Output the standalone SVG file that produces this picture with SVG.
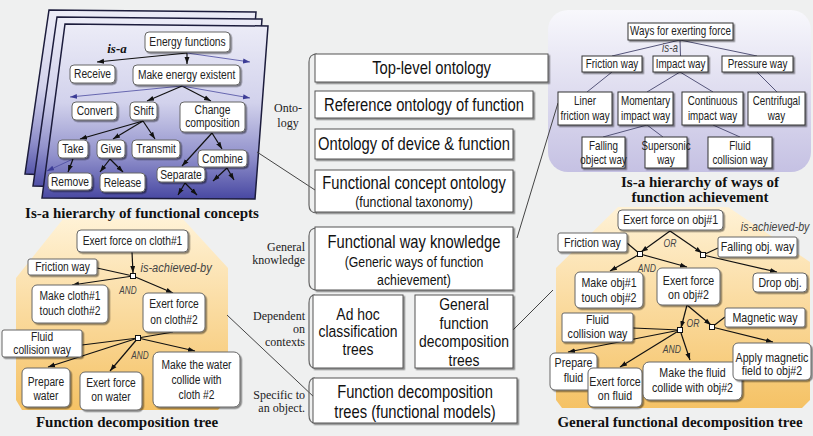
<svg xmlns="http://www.w3.org/2000/svg" width="813" height="436" viewBox="0 0 813 436">
<defs>
<linearGradient id="gSheet" x1="0" y1="0" x2="0" y2="1">
<stop offset="0" stop-color="#ececf7"/>
<stop offset="0.45" stop-color="#d2d2ec"/>
<stop offset="0.75" stop-color="#9292cc"/>
<stop offset="1" stop-color="#4848a2"/>
</linearGradient>
<linearGradient id="gWays" x1="0" y1="0" x2="0" y2="1">
<stop offset="0" stop-color="#f8f8fc"/>
<stop offset="1" stop-color="#c5c1e3"/>
</linearGradient>
<linearGradient id="gOr" x1="0" y1="0" x2="0" y2="1">
<stop offset="0" stop-color="#fff2d6"/>
<stop offset="1" stop-color="#f5c265"/>
</linearGradient>
<filter id="sh" x="-20%" y="-20%" width="150%" height="160%">
<feDropShadow dx="1.5" dy="1.5" stdDeviation="0.7" flood-color="#000" flood-opacity="0.45"/>
</filter>
<marker id="a" viewBox="0 0 10 10" refX="10" refY="5" markerWidth="7" markerHeight="7" markerUnits="userSpaceOnUse" orient="auto">
<path d="M0,1.5 L10,5 L0,8.5 z" fill="#111"/>
</marker>
<marker id="ab" viewBox="0 0 10 10" refX="10" refY="5" markerWidth="7" markerHeight="7" markerUnits="userSpaceOnUse" orient="auto">
<path d="M0,1.5 L10,5 L0,8.5 z" fill="#3c3c96"/>
</marker>
</defs>
<style>
.sheet{fill:url(#gSheet);stroke:#1c1c3c;stroke-width:1.5}
.nb{fill:#fff;stroke:#666;stroke-width:1;filter:url(#sh)}
.sb{fill:#fff;stroke:#333;stroke-width:1;filter:url(#sh)}
.cb{fill:#fff;stroke:#555;stroke-width:1;filter:url(#sh)}
.e{fill:none;stroke:#111;stroke-width:1.2}
.eb{fill:none;stroke:#4a4aa0;stroke-width:0.8}
.ew{fill:none;stroke:#55557a;stroke-width:1}
.cn{fill:none;stroke:#444;stroke-width:1}
.br{fill:none;stroke:#666;stroke-width:1.2}
.nd{fill:#fff;stroke:#111;stroke-width:1}
text{font-family:"Liberation Sans",Arial,sans-serif;fill:#222;text-anchor:middle;transform-box:fill-box;transform-origin:center;transform:scaleX(0.82)}
.t1{font-size:12.5px}
.t2{font-size:12px}
.t3{font-size:12.5px}
.t4{font-size:13px}
.big{font-size:18px;fill:#111}
.big2{font-size:17px;fill:#111}
.mid{font-size:15px;fill:#111}
.it{font-style:italic;fill:#444}
.cap{font-family:"Liberation Serif","Times New Roman",serif;font-weight:bold;font-size:15px;fill:#111;transform:none}
.isa{font-family:"Liberation Serif","Times New Roman",serif;font-weight:bold;font-style:italic;font-size:13px;fill:#111;transform:none}
.sl{font-family:"Liberation Serif","Times New Roman",serif;font-size:12px;fill:#222;text-anchor:end;transform:none}
</style>
<rect width="813" height="436" fill="#eff0f0"/>

<!-- Regions -->
<g id="region-isa-sheets">
<polygon class="sheet" points="49,10 256,12 243,183 25,174"/>
<polygon class="sheet" points="57,17 262,19 249,191 33,186"/>
<polygon class="sheet" points="65,24 268,26 255,199 42,198"/>
</g>
<rect id="region-ways" x="548" y="10" width="263" height="162" rx="20" fill="url(#gWays)"/>
<polygon id="region-fdt" points="63,219 183,219 228,268 228,398 218,410 22,410 16,400 16,278" fill="url(#gOr)"/>
<polygon id="region-gfdt" points="618,207 728,207 810,262 810,400 802,408 562,408 556,400 556,268" fill="url(#gOr)"/>

<!-- Connectors -->
<g id="connectors">
<path class="cn" d="M257,152 L315,190"/>
<path class="cn" d="M517,238 L558,103"/>
<path class="cn" d="M227,315 L315,398"/>
<path class="cn" d="M513,330 L553,290"/>
<path class="br" d="M317,54 Q309,54 309,62 V205 Q309,213 317,213"/>
<path class="br" d="M317,228 Q309,228 309,236 V282 Q309,290 317,290"/>
<path class="br" d="M315,295 Q309,295 309,303 V360 Q309,368 315,368"/>
<path class="br" d="M315,378 Q309,378 309,386 V415 Q309,423 315,423"/>
<!-- is-a hierarchy edges -->
<path class="e" d="M187,53 L97,62" marker-end="url(#a)"/>
<path class="e" d="M187,53 L187,64" marker-end="url(#a)"/>
<path class="eb" d="M187,53 L250,62" marker-end="url(#ab)"/>
<path class="eb" d="M182,86 L70,97" marker-end="url(#ab)"/>
<path class="e" d="M182,86 L147,101" marker-end="url(#a)"/>
<path class="e" d="M182,86 L211,101" marker-end="url(#a)"/>
<path class="eb" d="M182,86 L250,98" marker-end="url(#ab)"/>
<path class="e" d="M143,121 L80,139" marker-end="url(#a)"/>
<path class="e" d="M143,121 L113,139" marker-end="url(#a)"/>
<path class="e" d="M143,121 L155,139" marker-end="url(#a)"/>
<path class="eb" d="M73,159 L47,171" marker-end="url(#ab)"/>
<path class="e" d="M73,159 L68,172" marker-end="url(#a)"/>
<path class="e" d="M110,159 L100,172" marker-end="url(#a)"/>
<path class="e" d="M110,159 L123,172" marker-end="url(#a)"/>
<path class="e" d="M212,133 L182,166" marker-end="url(#a)"/>
<path class="e" d="M212,133 L222,149" marker-end="url(#a)"/>
<path class="e" d="M185,183 L178,195" marker-end="url(#a)"/>
<path class="e" d="M185,183 L197,195" marker-end="url(#a)"/>
<path class="e" d="M227,168 L213,181" marker-end="url(#a)"/>
<path class="e" d="M227,168 L234,180" marker-end="url(#a)"/>
<!-- ways edges -->
<path class="ew" d="M680,40 L612,56 M680,40 L680.5,56 M680,40 L757,56 M612,72 L587,92 M680,72 L647,92 M680,72 L713,92 M757,72 L777,92 M647,125 L603,137 M647,125 L663,137 M713,125 L740,137"/>
<!-- function decomposition tree edges -->
<path class="e" d="M132,252 L133,273" marker-end="url(#a)"/>
<path class="e" d="M97,268 L133,276"/>
<path class="e" d="M133,276 L72,285" marker-end="url(#a)"/>
<path class="e" d="M133,276 L173,293" marker-end="url(#a)"/>
<path class="e" d="M173,332 L138,338"/>
<path class="e" d="M82,345 L138,338"/>
<path class="e" d="M138,338 L48,367" marker-end="url(#a)"/>
<path class="e" d="M138,338 L110,371" marker-end="url(#a)"/>
<path class="e" d="M138,338 L195,351" marker-end="url(#a)"/>
<!-- general decomposition edges -->
<path class="e" d="M670,231 L641,252" marker-end="url(#a)"/>
<path class="e" d="M670,231 L702,253" marker-end="url(#a)"/>
<path class="e" d="M627,243 L640,254"/>
<path class="e" d="M718,248 L703,255"/>
<path class="e" d="M640,254 L610,271" marker-end="url(#a)"/>
<path class="e" d="M640,254 L687,267" marker-end="url(#a)"/>
<path class="e" d="M703,255 L777,272" marker-end="url(#a)"/>
<path class="e" d="M687,305 L681,328" marker-end="url(#a)"/>
<path class="e" d="M687,305 L711,325" marker-end="url(#a)"/>
<path class="e" d="M633,328 L680,330"/>
<path class="e" d="M725,317 L712,327"/>
<path class="e" d="M680,330 L568,352" marker-end="url(#a)"/>
<path class="e" d="M680,330 L620,367" marker-end="url(#a)"/>
<path class="e" d="M680,330 L690,360" marker-end="url(#a)"/>
<path class="e" d="M712,327 L773,342" marker-end="url(#a)"/>
</g>

<!-- Is-a hierarchy of functional concepts -->
<text class="isa" x="117" y="53">is-a</text>
<g id="n-energy-functions"><rect class="nb" x="145" y="32" width="85" height="20" rx="4"/><text class="t1" x="187.5" y="46.5">Energy functions</text></g>
<g id="n-receive"><rect class="nb" x="70" y="65" width="45" height="18" rx="4"/><text class="t1" x="92.5" y="78.5">Receive</text></g>
<g id="n-make-energy"><rect class="nb" x="133" y="65" width="107" height="20" rx="4"/><text class="t1" x="186.5" y="79.5">Make energy existent</text></g>
<g id="n-convert"><rect class="nb" x="72" y="102" width="45" height="18" rx="4"/><text class="t1" x="94.5" y="115.5">Convert</text></g>
<g id="n-shift"><rect class="nb" x="130" y="102" width="27" height="18" rx="4"/><text class="t1" x="143.5" y="115.5">Shift</text></g>
<g id="n-change"><rect class="nb" x="180" y="102" width="65" height="30" rx="4"/><text class="t1" x="212.5" y="114.5">Change</text><text class="t1" x="212.5" y="127">composition</text></g>
<g id="n-take"><rect class="nb" x="58" y="140" width="30" height="18" rx="4"/><text class="t1" x="73" y="153.5">Take</text></g>
<g id="n-give"><rect class="nb" x="97" y="140" width="28" height="18" rx="4"/><text class="t1" x="111" y="153.5">Give</text></g>
<g id="n-transmit"><rect class="nb" x="132" y="140" width="48" height="18" rx="4"/><text class="t1" x="156" y="153.5">Transmit</text></g>
<g id="n-combine"><rect class="nb" x="198" y="150" width="49" height="17" rx="4"/><text class="t1" x="222.5" y="163">Combine</text></g>
<g id="n-remove"><rect class="nb" x="48" y="173" width="44" height="17" rx="4"/><text class="t1" x="70" y="186">Remove</text></g>
<g id="n-release"><rect class="nb" x="100" y="173" width="45" height="19" rx="4"/><text class="t1" x="122.5" y="187">Release</text></g>
<g id="n-separate"><rect class="nb" x="157" y="167" width="48" height="15" rx="4"/><text class="t1" x="181" y="179">Separate</text></g>
<text class="cap" x="142" y="218">Is-a hierarchy of functional concepts</text>

<!-- Center column -->
<g id="c-top-level"><rect class="cb" x="315" y="54" width="233" height="28"/><text class="big" x="431.5" y="74">Top-level ontology</text></g>
<g id="c-reference"><rect class="cb" x="315" y="91" width="218" height="27"/><text class="big" x="424" y="111">Reference ontology of function</text></g>
<g id="c-device"><rect class="cb" x="315" y="129" width="198" height="30"/><text class="big" x="414" y="150.5">Ontology of device &amp; function</text></g>
<g id="c-concept"><rect class="cb" x="315" y="170" width="198" height="42"/><text class="big" x="414" y="189">Functional concept ontology</text><text class="mid" x="414" y="207.5">(functional taxonomy)</text></g>
<g id="c-way"><rect class="cb" x="315" y="227" width="198" height="63"/><text class="big" x="414" y="248">Functional way knowledge</text><text class="mid" x="414" y="267">(Generic ways of function</text><text class="mid" x="414" y="285">achievement)</text></g>
<g id="c-adhoc"><rect class="cb" x="313" y="295" width="90" height="73"/><text class="big2" x="358" y="320">Ad hoc</text><text class="big2" x="358" y="337.5">classification</text><text class="big2" x="358" y="355">trees</text></g>
<g id="c-general"><rect class="cb" x="415" y="295" width="98" height="73"/><text class="big2" x="464" y="310.5">General</text><text class="big2" x="464" y="329">function</text><text class="big2" x="464" y="347.5">decomposition</text><text class="big2" x="464" y="366">trees</text></g>
<g id="c-fdt"><rect class="cb" x="313" y="378" width="204" height="45"/><text class="big" x="415" y="398">Function decomposition</text><text class="big" x="415" y="418">trees (functional models)</text></g>
<text class="sl" x="288" y="112" style="text-anchor:middle">Onto-</text>
<text class="sl" x="288" y="127" style="text-anchor:middle">logy</text>
<text class="sl" x="305" y="251">General</text>
<text class="sl" x="305" y="264">knowledge</text>
<text class="sl" x="305" y="320">Dependent</text>
<text class="sl" x="305" y="333">on</text>
<text class="sl" x="305" y="346">contexts</text>
<text class="sl" x="305" y="399">Specific to</text>
<text class="sl" x="305" y="412">an object.</text>

<!-- Ways hierarchy -->
<text class="it t2" x="670" y="52">is-a</text>
<g id="w-ways"><rect class="sb" x="628" y="23" width="105" height="17"/><text class="t2" x="680.5" y="35.5">Ways for exerting force</text></g>
<g id="w-friction"><rect class="sb" x="582" y="56" width="60" height="16"/><text class="t2" x="612" y="68.5">Friction way</text></g>
<g id="w-impact"><rect class="sb" x="653" y="56" width="55" height="16"/><text class="t2" x="680.5" y="68.5">Impact way</text></g>
<g id="w-pressure"><rect class="sb" x="722" y="56" width="71" height="16"/><text class="t2" x="757.5" y="68.5">Pressure way</text></g>
<g id="w-liner"><rect class="sb" x="558" y="92" width="54" height="33"/><text class="t2" x="585" y="105.5">Liner</text><text class="t2" x="585" y="120">friction way</text></g>
<g id="w-momentary"><rect class="sb" x="618" y="92" width="55" height="33"/><text class="t2" x="645.5" y="105.5">Momentary</text><text class="t2" x="645.5" y="120">impact way</text></g>
<g id="w-continuous"><rect class="sb" x="682" y="92" width="61" height="33"/><text class="t2" x="712.5" y="105.5">Continuous</text><text class="t2" x="712.5" y="120">impact way</text></g>
<g id="w-centrifugal"><rect class="sb" x="748" y="92" width="57" height="33"/><text class="t2" x="776.5" y="105.5">Centrifugal</text><text class="t2" x="776.5" y="120">way</text></g>
<g id="w-falling"><rect class="sb" x="582" y="137" width="43" height="31"/><text class="t2" x="603.5" y="150">Falling</text><text class="t2" x="603.5" y="164.5">object way</text></g>
<g id="w-supersonic"><rect class="sb" x="645" y="137" width="42" height="31"/><text class="t2" x="666" y="150">Supersonic</text><text class="t2" x="666" y="164.5">way</text></g>
<g id="w-fluid"><rect class="sb" x="708" y="137" width="64" height="31"/><text class="t2" x="740" y="150">Fluid</text><text class="t2" x="740" y="164.5">collision way</text></g>
<text class="cap" x="700" y="187">Is-a hierarchy of ways of</text>
<text class="cap" x="700" y="202">function achievement</text>

<!-- Function decomposition tree -->
<g id="f-exert1"><rect class="nb" x="77" y="230" width="111" height="22" rx="4"/><text class="t3" x="132.5" y="245.5">Exert force on cloth#1</text></g>
<g id="f-friction"><rect class="nb" x="28" y="259" width="69" height="16" rx="2"/><text class="t3" x="62.5" y="271.5">Friction way</text></g>
<text class="it" x="176" y="272" style="font-size:13.5px">is-achieved-by</text>
<text class="it" x="128" y="294" style="font-size:10px">AND</text>
<g id="f-make-touch"><rect class="nb" x="32" y="285" width="76" height="38" rx="5"/><text class="t3" x="70" y="300">Make cloth#1</text><text class="t3" x="70" y="315">touch cloth#2</text></g>
<g id="f-exert2"><rect class="nb" x="143" y="293" width="62" height="39" rx="5"/><text class="t3" x="174" y="308.5">Exert force</text><text class="t3" x="174" y="324">on cloth#2</text></g>
<g id="f-fluid"><rect class="nb" x="2" y="330" width="80" height="27" rx="2"/><text class="t3" x="42" y="341.5">Fluid</text><text class="t3" x="42" y="354.5">collision way</text></g>
<text class="it" x="140" y="359" style="font-size:10px">AND</text>
<g id="f-prepare"><rect class="nb" x="22" y="368" width="48" height="39" rx="5"/><text class="t3" x="46" y="386">Prepare</text><text class="t3" x="46" y="400">water</text></g>
<g id="f-exert-water"><rect class="nb" x="80" y="372" width="62" height="38" rx="5"/><text class="t3" x="111" y="387.5">Exert force</text><text class="t3" x="111" y="401.5">on water</text></g>
<g id="f-make-water"><rect class="nb" x="153" y="352" width="87" height="55" rx="6"/><text class="t3" x="196.5" y="369.5">Make the water</text><text class="t3" x="196.5" y="384.5">collide with</text><text class="t3" x="196.5" y="399.5">cloth #2</text></g>
<g id="f-and1"><rect class="nd" x="130.5" y="273.5" width="5" height="5"/></g>
<g id="f-and2"><rect class="nd" x="135.5" y="335.5" width="5" height="5"/></g>
<text class="cap" x="127" y="427">Function decomposition tree</text>

<!-- General functional decomposition tree -->
<g id="g-exert1"><rect class="nb" x="618" y="210" width="105" height="20" rx="4"/><text class="t4" x="670.5" y="224.5">Exert force on obj#1</text></g>
<text class="it" x="775" y="231" style="font-size:13px">is-achieved-by</text>
<g id="g-friction"><rect class="nb" x="558" y="233" width="69" height="19" rx="2"/><text class="t4" x="592.5" y="247">Friction way</text></g>
<g id="g-falling"><rect class="nb" x="718" y="237" width="79" height="20" rx="2"/><text class="t4" x="757.5" y="251.5">Falling obj. way</text></g>
<text class="it" x="670" y="247" style="font-size:10.5px">OR</text>
<text class="it" x="647" y="272" style="font-size:10.5px">AND</text>
<g id="g-make-touch"><rect class="nb" x="575" y="272" width="68" height="36" rx="5"/><text class="t4" x="609" y="287.5">Make obj#1</text><text class="t4" x="609" y="302">touch obj#2</text></g>
<g id="g-exert2"><rect class="nb" x="657" y="268" width="63" height="37" rx="5"/><text class="t4" x="688.5" y="285.5">Exert force</text><text class="t4" x="688.5" y="299.5">on obj#2</text></g>
<g id="g-drop"><rect class="nb" x="753" y="273" width="54" height="19" rx="4"/><text class="t4" x="780" y="287">Drop obj.</text></g>
<g id="g-magnetic"><rect class="nb" x="725" y="308" width="80" height="19" rx="2"/><text class="t4" x="765" y="322">Magnetic way</text></g>
<text class="it" x="693" y="327" style="font-size:10.5px">OR</text>
<text class="it" x="672" y="353" style="font-size:10.5px">AND</text>
<g id="g-fluid"><rect class="nb" x="562" y="313" width="71" height="29" rx="2"/><text class="t4" x="597.5" y="324">Fluid</text><text class="t4" x="597.5" y="338">collision way</text></g>
<g id="g-prepare"><rect class="nb" x="550" y="353" width="47" height="37" rx="5"/><text class="t4" x="573.5" y="367.5">Prepare</text><text class="t4" x="573.5" y="382">fluid</text></g>
<g id="g-exert-fluid"><rect class="nb" x="588" y="368" width="54" height="39" rx="5"/><text class="t4" x="615" y="386">Exert force</text><text class="t4" x="615" y="400">on fluid</text></g>
<g id="g-make-fluid"><rect class="nb" x="643" y="362" width="99" height="38" rx="6"/><text class="t4" x="692.5" y="377.5">Make the fluid</text><text class="t4" x="692.5" y="392">collide with obj#2</text></g>
<g id="g-apply"><rect class="nb" x="733" y="343" width="78" height="37" rx="5"/><text class="t4" x="772" y="362">Apply magnetic</text><text class="t4" x="772" y="375.5">field to obj#2</text></g>
<g id="g-n1"><rect class="nd" x="637.5" y="251.5" width="5" height="5"/></g>
<g id="g-n2"><rect class="nd" x="700.5" y="252.5" width="5" height="5"/></g>
<g id="g-n3"><rect class="nd" x="677.5" y="327.5" width="5" height="5"/></g>
<g id="g-n4"><rect class="nd" x="709.5" y="324.5" width="5" height="5"/></g>
<text class="cap" x="680" y="427">General functional decomposition tree</text>
</svg>
